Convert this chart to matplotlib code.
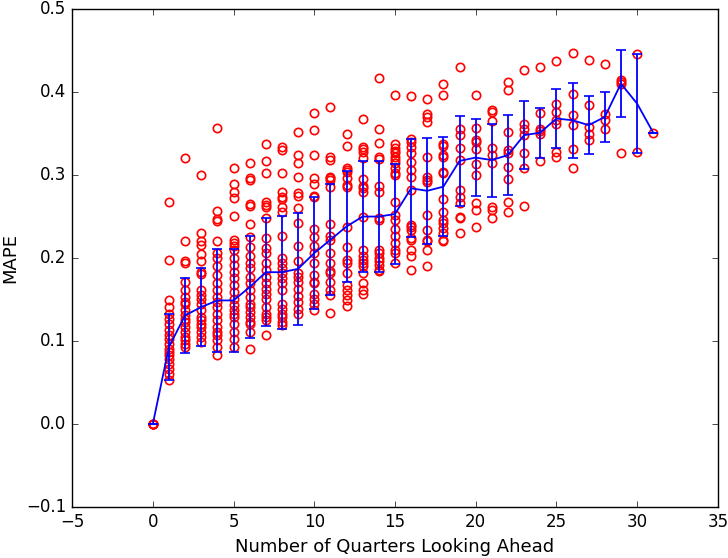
# MAPE of forecasts vs. how many quarters ahead we look
# red circles = individual runs, blue line = mean with std error bars
import matplotlib
matplotlib.use('Agg')
import matplotlib.pyplot as plt

plt.style.use('classic')

# individual MAPE values, one list per quarter ahead (0..31)
mape_runs = [
    [0.0, 0.0, 0.0, 0.0, 0.0],
    [0.267, 0.198, 0.149, 0.141, 0.133, 0.127, 0.121, 0.113, 0.107, 0.102, 0.097,
     0.091, 0.087, 0.083, 0.079, 0.073, 0.067, 0.061, 0.053],
    [0.321, 0.220, 0.196, 0.194, 0.171, 0.161, 0.153, 0.147, 0.145, 0.137, 0.131,
     0.127, 0.123, 0.117, 0.111, 0.105, 0.101, 0.097, 0.093],
    [0.300, 0.230, 0.220, 0.216, 0.205, 0.196, 0.183, 0.181, 0.161, 0.155, 0.151,
     0.145, 0.137, 0.129, 0.125, 0.121, 0.117, 0.111, 0.105, 0.099],
    [0.357, 0.257, 0.247, 0.245, 0.221, 0.206, 0.200, 0.190, 0.180, 0.170, 0.161,
     0.153, 0.147, 0.141, 0.133, 0.125, 0.117, 0.111, 0.107, 0.101, 0.093, 0.083],
    [0.309, 0.289, 0.279, 0.272, 0.251, 0.222, 0.218, 0.214, 0.210, 0.200, 0.192,
     0.183, 0.176, 0.167, 0.159, 0.151, 0.143, 0.137, 0.133, 0.129, 0.121, 0.111,
     0.103, 0.093],
    [0.315, 0.296, 0.294, 0.265, 0.263, 0.241, 0.225, 0.213, 0.202, 0.194, 0.188,
     0.177, 0.170, 0.161, 0.153, 0.145, 0.141, 0.135, 0.129, 0.123, 0.121, 0.111,
     0.091],
    [0.337, 0.317, 0.303, 0.268, 0.264, 0.261, 0.248, 0.224, 0.212, 0.206, 0.194,
     0.186, 0.177, 0.170, 0.163, 0.157, 0.151, 0.141, 0.133, 0.129, 0.125, 0.107],
    [0.334, 0.330, 0.303, 0.279, 0.274, 0.271, 0.262, 0.255, 0.227, 0.200, 0.194,
     0.188, 0.182, 0.176, 0.170, 0.162, 0.145, 0.139, 0.133, 0.129, 0.123, 0.119],
    [0.352, 0.324, 0.315, 0.298, 0.278, 0.275, 0.260, 0.242, 0.214, 0.196, 0.182,
     0.177, 0.171, 0.163, 0.154, 0.147, 0.139, 0.133],
    [0.375, 0.354, 0.324, 0.297, 0.289, 0.275, 0.273, 0.235, 0.225, 0.214, 0.206,
     0.194, 0.180, 0.171, 0.170, 0.157, 0.151, 0.145, 0.137],
    [0.382, 0.322, 0.318, 0.298, 0.296, 0.294, 0.286, 0.241, 0.226, 0.222, 0.206,
     0.194, 0.184, 0.182, 0.171, 0.161, 0.155, 0.134],
    [0.350, 0.335, 0.308, 0.306, 0.304, 0.296, 0.288, 0.286, 0.238, 0.213, 0.198,
     0.194, 0.182, 0.167, 0.161, 0.155, 0.149, 0.142],
    [0.367, 0.334, 0.331, 0.328, 0.320, 0.295, 0.287, 0.284, 0.280, 0.250, 0.210,
     0.202, 0.198, 0.194, 0.190, 0.182, 0.170, 0.161, 0.157],
    [0.417, 0.355, 0.338, 0.322, 0.319, 0.287, 0.280, 0.248, 0.246, 0.210, 0.206,
     0.200, 0.196, 0.192, 0.186, 0.184],
    [0.396, 0.337, 0.332, 0.329, 0.326, 0.322, 0.318, 0.314, 0.308, 0.303, 0.300,
     0.268, 0.252, 0.246, 0.235, 0.226, 0.218, 0.210, 0.206, 0.194],
    [0.395, 0.343, 0.340, 0.334, 0.326, 0.316, 0.306, 0.298, 0.282, 0.240, 0.238,
     0.234, 0.224, 0.222, 0.210, 0.202, 0.186],
    [0.392, 0.374, 0.370, 0.364, 0.322, 0.298, 0.294, 0.292, 0.252, 0.234, 0.222,
     0.220, 0.210, 0.190],
    [0.410, 0.396, 0.337, 0.335, 0.324, 0.322, 0.304, 0.302, 0.271, 0.256, 0.246,
     0.242, 0.236, 0.230, 0.222, 0.220],
    [0.430, 0.356, 0.348, 0.332, 0.318, 0.282, 0.274, 0.266, 0.249, 0.248, 0.230],
    [0.396, 0.357, 0.342, 0.340, 0.331, 0.313, 0.300, 0.266, 0.258, 0.237],
    [0.378, 0.376, 0.365, 0.332, 0.324, 0.314, 0.261, 0.258, 0.248],
    [0.412, 0.402, 0.352, 0.330, 0.326, 0.310, 0.295, 0.267, 0.255],
    [0.427, 0.362, 0.356, 0.348, 0.327, 0.309, 0.263],
    [0.430, 0.375, 0.356, 0.353, 0.349, 0.317],
    [0.437, 0.386, 0.376, 0.366, 0.362, 0.328, 0.322],
    [0.447, 0.398, 0.372, 0.360, 0.331, 0.309],
    [0.439, 0.384, 0.358, 0.349, 0.342],
    [0.434, 0.374, 0.366, 0.356],
    [0.415, 0.412, 0.410, 0.326],
    [0.446, 0.328],
    [0.351],
]

# mean and std per quarter ahead (blue line + error bars)
quarters = list(range(32))
mape_mean = [0.0, 0.093, 0.131, 0.141, 0.149, 0.149, 0.165, 0.183, 0.183, 0.187,
             0.206, 0.222, 0.238, 0.250, 0.250, 0.253, 0.284, 0.281, 0.286, 0.317,
             0.321, 0.318, 0.324, 0.348, 0.351, 0.368, 0.366, 0.360, 0.370, 0.410,
             0.386, 0.351]
mape_std = [0.0, 0.040, 0.045, 0.047, 0.062, 0.062, 0.061, 0.065, 0.068, 0.067,
            0.067, 0.067, 0.067, 0.067, 0.067, 0.060, 0.059, 0.064, 0.060, 0.054,
            0.046, 0.044, 0.048, 0.041, 0.030, 0.036, 0.045, 0.035, 0.030, 0.040,
            0.060, 0.0]

fig = plt.figure(figsize=(7.28, 5.58), dpi=100, facecolor='white')
ax = fig.add_subplot(111)
fig.subplots_adjust(left=0.099, right=0.986, bottom=0.091, top=0.984)

for q, vals in enumerate(mape_runs):
    ax.plot([q] * len(vals), vals, 'o', markerfacecolor='none',
            markeredgecolor='r', markeredgewidth=1.2, markersize=6)

ax.errorbar(quarters, mape_mean, yerr=mape_std, color='b', ecolor='b',
            capsize=3.5, linewidth=1.3, elinewidth=1.3, capthick=1.2)

ax.set_xlim(-5, 35)
ax.set_ylim(-0.1, 0.5)
ax.set_xlabel("Number of Quarters Looking Ahead", fontsize=13)
ax.set_ylabel("MAPE", fontsize=13)

fig.savefig("out.png", dpi=100, facecolor='white')
